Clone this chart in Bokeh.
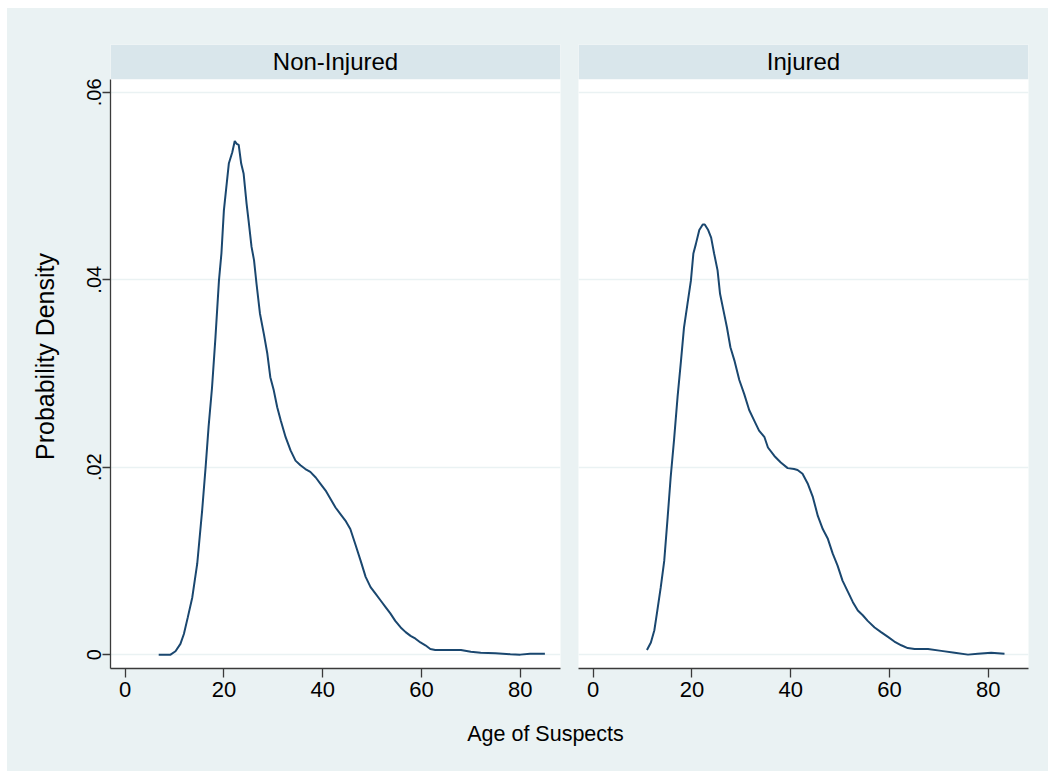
from bokeh.plotting import figure
from bokeh.layouts import column, row
from bokeh.models import Spacer, FixedTicker, BoxAnnotation, Label, Range1d
from bokeh.embed import file_html
from bokeh.resources import INLINE

# ---------------- data ----------------
panel_titles = ["Non-Injured", "Injured"]
x_title = "Age of Suspects"
y_title = "Probability Density"

x_ticks = [0, 20, 40, 60, 80]
x_tick_labels = ["0", "20", "40", "60", "80"]
y_ticks = [0, 0.02, 0.04, 0.06]
y_tick_labels = ["0", ".02", ".04", ".06"]

age_non = [6.8, 9.2, 10.2, 11.2, 11.9, 12.7, 13.6, 14.6, 15.6, 16.3, 16.9, 17.6, 18.3, 19.0, 19.5,
           20.0, 20.5, 21.0, 21.7, 22.2, 22.6, 23.0, 23.5, 24.0, 24.6, 25.0, 25.6, 26.1, 26.6, 27.3,
           28.1, 28.8, 29.4, 30.1, 30.8, 31.5, 32.5, 33.5, 34.5, 35.5, 36.5, 37.5, 38.6, 39.6, 40.6,
           41.6, 42.6, 43.6, 44.6, 45.6, 46.6, 47.7, 48.7, 49.7, 50.7, 51.7, 52.7, 53.7, 54.7, 55.8,
           56.8, 57.8, 58.8, 59.8, 60.8, 61.8, 62.8, 65.9, 68.0, 70.0, 72.0, 75.0, 78.0, 80.0, 82.0, 85.0]
dens_non = [0.0, 0.0, 0.00036, 0.00115, 0.0022, 0.0040, 0.0061, 0.0097, 0.0154, 0.0200, 0.0243, 0.0285,
            0.0339, 0.0399, 0.0428, 0.0474, 0.0499, 0.0524, 0.0536, 0.0548, 0.0545, 0.0544, 0.0524,
            0.0513, 0.0481, 0.0463, 0.0435, 0.0421, 0.0396, 0.0364, 0.0342, 0.0321, 0.0296, 0.0282,
            0.0264, 0.0250, 0.0232, 0.0218, 0.0207, 0.0202, 0.0198, 0.0195, 0.0189, 0.0182, 0.0175,
            0.0166, 0.0157, 0.0150, 0.0143, 0.0134, 0.0118, 0.0100, 0.0083, 0.0072, 0.0065, 0.0058,
            0.0051, 0.0044, 0.0036, 0.0029, 0.0024, 0.0020, 0.0017, 0.0013, 0.0010, 0.0006, 0.0005,
            0.0005, 0.0005, 0.0003, 0.0002, 0.00015, 0.00005, 0.0, 0.0001, 0.0001]

age_inj = [10.9, 11.7, 12.4, 13.0, 13.7, 14.4, 15.1, 15.7, 16.4, 17.1, 17.8, 18.4, 19.1, 19.8, 20.3,
           20.8, 21.5, 22.2, 22.6, 23.3, 23.9, 24.5, 25.2, 25.7, 26.4, 27.1, 27.8, 28.6, 29.6, 30.6,
           31.6, 32.6, 33.6, 34.7, 35.4, 36.7, 38.0, 39.4, 40.7, 41.4, 42.4, 43.5, 44.5, 45.5, 46.5,
           47.5, 48.5, 49.5, 50.5, 51.6, 52.6, 53.6, 54.6, 55.6, 57.0, 58.3, 59.7, 61.0, 62.4, 63.7,
           65.1, 67.8, 70.5, 73.2, 75.9, 77.9, 80.6, 83.3]
dens_inj = [0.0005, 0.0013, 0.0026, 0.0047, 0.0072, 0.0100, 0.0147, 0.0189, 0.0230, 0.0275, 0.0314,
            0.0349, 0.0374, 0.0399, 0.0428, 0.0438, 0.0453, 0.0459, 0.0459, 0.0453, 0.0445, 0.0428,
            0.0410, 0.0385, 0.0367, 0.0349, 0.0328, 0.0314, 0.0293, 0.0278, 0.0261, 0.0250, 0.0239,
            0.0232, 0.0221, 0.0212, 0.0205, 0.0199, 0.0198, 0.0197, 0.0193, 0.0182, 0.0168, 0.0148,
            0.0134, 0.0124, 0.0108, 0.0095, 0.0079, 0.0067, 0.0056, 0.0047, 0.0042, 0.0036, 0.0029,
            0.0024, 0.0019, 0.0014, 0.0010, 0.0007, 0.0006, 0.0006, 0.0004, 0.0002, 0.0, 0.0001,
            0.0002, 0.0001]

# ---------------- style ----------------
BG = "#EAF2F3"
HEADER = "#D9E6EB"
GRID = "#EAF2F3"
LINE = "#1A476F"
AXIS = "#3a3a3a"
FONT = "Liberation Sans"

X_LO, X_HI = -2.96, 88.16
Y_LO, Y_PLOT_TOP, Y_HI = -0.00148, 0.06138, 0.0651


def make_panel(title, xs, ys, left_axis):
    width = 561 if left_axis else 480
    p = figure(width=width, height=712,
               x_range=Range1d(X_LO, X_HI), y_range=Range1d(Y_LO, Y_HI),
               output_backend="svg", toolbar_location=None,
               y_axis_location="left" if left_axis else None,
               min_border_left=103 if left_axis else 10,
               min_border_right=8 if left_axis else 20,
               min_border_top=36, min_border_bottom=52,
               background_fill_color="white", border_fill_color=BG,
               outline_line_color=None)
    p.xgrid.visible = False
    p.ygrid.ticker = FixedTicker(ticks=y_ticks)
    p.ygrid.grid_line_color = GRID
    p.ygrid.grid_line_width = 1.6

    xa = p.xaxis[0]
    xa.ticker = FixedTicker(ticks=x_ticks)
    xa.major_label_overrides = dict(zip(x_ticks, x_tick_labels))
    xa.axis_line_color = AXIS
    xa.axis_line_width = 1.3
    xa.major_tick_line_color = AXIS
    xa.major_tick_line_width = 1.3
    xa.major_tick_out = 9
    xa.major_tick_in = 0
    xa.minor_tick_line_color = None
    xa.major_label_standoff = 4
    xa.major_label_text_font = FONT
    xa.major_label_text_font_size = "22px"
    xa.major_label_text_color = "black"

    if left_axis:
        ya = p.yaxis[0]
        ya.ticker = FixedTicker(ticks=y_ticks)
        ya.major_label_overrides = dict(zip(y_ticks, y_tick_labels))
        ya.bounds = (Y_LO, Y_PLOT_TOP)
        ya.axis_line_color = AXIS
        ya.axis_line_width = 1.3
        ya.major_tick_line_color = AXIS
        ya.major_tick_line_width = 1.3
        ya.major_tick_out = 8
        ya.major_tick_in = 0
        ya.minor_tick_line_color = None
        ya.major_label_orientation = "vertical"
        ya.major_label_standoff = 1
        ya.major_label_text_font = FONT
        ya.major_label_text_font_size = "20px"
        ya.major_label_text_color = "black"
        ya.axis_label = y_title
        ya.axis_label_text_font = FONT
        ya.axis_label_text_font_size = "25px"
        ya.axis_label_text_font_style = "normal"
        ya.axis_label_text_color = "black"
        ya.axis_label_standoff = 26

    p.add_layout(BoxAnnotation(bottom=Y_PLOT_TOP, fill_color=HEADER, fill_alpha=1.0,
                               line_color=None))
    p.add_layout(Label(x=(X_LO + X_HI) / 2, y=(Y_PLOT_TOP + Y_HI) / 2, text=title,
                       text_align="center", text_baseline="middle",
                       text_font=FONT, text_font_size="24px", text_color="black"))

    p.line(xs, ys, line_color=LINE, line_width=2.0)
    return p


p1 = make_panel(panel_titles[0], age_non, dens_non, True)
p2 = make_panel(panel_titles[1], age_inj, dens_inj, False)

p3 = figure(width=1041, height=51, x_range=Range1d(0, 1041), y_range=Range1d(0, 51),
            output_backend="svg", toolbar_location=None,
            x_axis_location=None, y_axis_location=None, min_border=0,
            background_fill_color=BG, border_fill_color=BG, outline_line_color=None)
p3.xgrid.visible = False
p3.ygrid.visible = False
p3.add_layout(Label(x=538, y=38, text=x_title, text_align="center", text_baseline="middle",
                    text_font=FONT, text_font_size="21.5px", text_color="black"))

WHITE = {"background-color": "white"}
inner = column(row(p1, p2, styles={"background-color": BG}), p3,
               styles={"background-color": BG})
layout = column(Spacer(width=1048, height=8, styles=WHITE),
                row(Spacer(width=7, height=763, styles=WHITE), inner, styles=WHITE),
                styles=WHITE)

open("out.html", "w").write(file_html(layout, INLINE))
